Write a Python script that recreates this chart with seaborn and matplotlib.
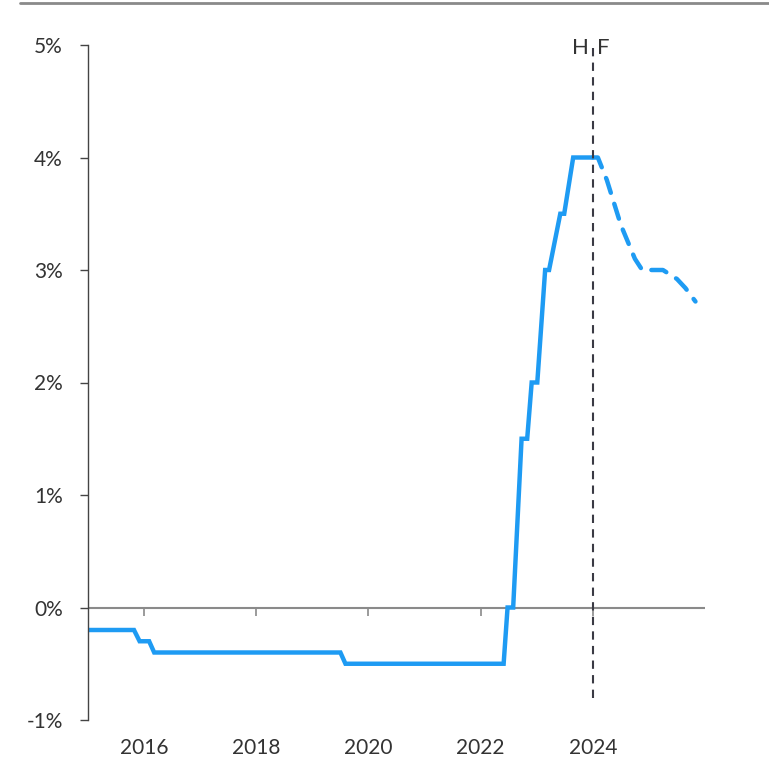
import matplotlib
matplotlib.use("Agg")
import matplotlib.pyplot as plt
import seaborn as sns
import pandas as pd
from matplotlib.lines import Line2D

# -------------------------
# Data (decimal years, % rate)
# -------------------------

hist_years = [2015.0, 2015.82, 2015.92, 2016.09, 2016.18, 2019.5, 2019.59,
              2022.41, 2022.48, 2022.58, 2022.73, 2022.83, 2022.91, 2023.01,
              2023.15, 2023.22, 2023.42, 2023.49, 2023.65, 2024.0]
hist_rates = [-0.2, -0.2, -0.3, -0.3, -0.4, -0.4, -0.5,
              -0.5, 0.0, 0.0, 1.5, 1.5, 2.0, 2.0,
              3.0, 3.0, 3.5, 3.5, 4.0, 4.0]

fcst_years = [2024.0, 2024.09, 2024.25, 2024.5, 2024.75, 2024.88,
              2025.25, 2025.5, 2025.65, 2025.83]
fcst_rates = [4.0, 4.0, 3.8, 3.4, 3.1, 3.0,
              3.0, 2.92, 2.84, 2.72]

year_ticks = [2016, 2018, 2020, 2022, 2024]
pct_ticks = [-1, 0, 1, 2, 3, 4, 5]
split_year = 2024.0

hist = pd.DataFrame({"year": hist_years, "rate": hist_rates})
fcst = pd.DataFrame({"year": fcst_years, "rate": fcst_rates})

sns.set_style("white")
plt.rcParams["font.family"] = ["Lato", "DejaVu Sans"]

blue = "#1e9bf3"
txt = "#333333"

fig = plt.figure(figsize=(7.69, 7.57), dpi=100)
ax = fig.add_axes([88 / 769, 1 - 720 / 757, (705 - 88) / 769, (720 - 45) / 757])

sns.lineplot(data=hist, x="year", y="rate", ax=ax, color=blue, lw=3.2,
             sort=False, solid_joinstyle="miter")
sns.lineplot(data=fcst, x="year", y="rate", ax=ax, color=blue, lw=3.2,
             sort=False, dashes=False, linestyle=(0, (3.5, 2.6)),
             dash_capstyle="round")

ax.set_xlim(2015, 2026)
ax.set_ylim(-1, 5)
ax.set_xlabel("")
ax.set_ylabel("")

# zero line
ax.axhline(0, color="#8a8a8a", lw=1.5, zorder=1)

# forecast split
ax.vlines(split_year, -0.8, 5, colors="#3a3a44", lw=1.5,
          linestyles=(0, (4, 3)), zorder=3)
ax.text(split_year - 0.07, 4.97, "H", ha="right", va="center",
        fontsize=16, color=txt)
ax.text(split_year + 0.07, 4.97, "F", ha="left", va="center",
        fontsize=16, color=txt)

# y axis
for s in ["top", "right", "bottom"]:
    ax.spines[s].set_visible(False)
ax.spines["left"].set_color("#444444")
ax.spines["left"].set_linewidth(1.0)
ax.set_yticks(pct_ticks)
ax.set_yticklabels([f"{v}%" for v in pct_ticks])
ax.tick_params(axis="y", left=True, length=6, width=1, color="#444444",
               labelsize=15, labelcolor=txt, pad=12)

# x labels at the bottom, tick marks on the zero line
ax.set_xticks(year_ticks)
ax.set_xticklabels([str(y) for y in year_ticks])
ax.tick_params(axis="x", bottom=False, length=0, labelsize=15,
               labelcolor=txt, pad=13)

sec = ax.secondary_xaxis(1 / 6)
sec.set_xticks(year_ticks)
sec.set_xticklabels([])
sec.spines["bottom"].set_visible(False)
sec.tick_params(axis="x", direction="out", length=6, width=1.2,
                color="#8a8a8a")

# top rule
fig.add_artist(Line2D([20 / 769, 1], [1 - 3 / 757, 1 - 3 / 757],
                      color="#8a8a8a", lw=2))

plt.savefig("out.png", dpi=100)
